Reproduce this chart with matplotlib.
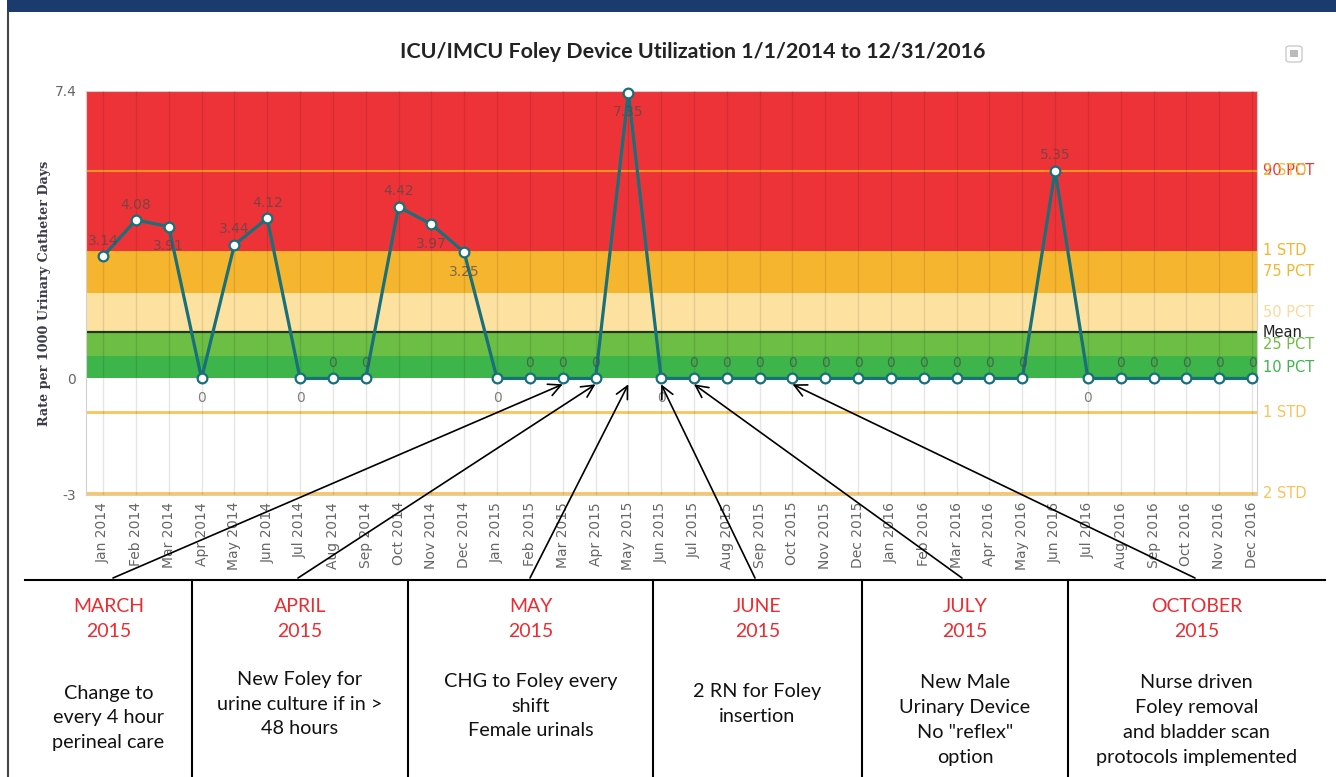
import numpy as np
import matplotlib.pyplot as plt
from matplotlib.lines import Line2D
from matplotlib.patches import Rectangle, FancyBboxPatch

# monthly rates, Jan 2014 .. Dec 2016
months = ['Jan 2014', 'Feb 2014', 'Mar 2014', 'Apr 2014', 'May 2014', 'Jun 2014',
          'Jul 2014', 'Aug 2014', 'Sep 2014', 'Oct 2014', 'Nov 2014', 'Dec 2014',
          'Jan 2015', 'Feb 2015', 'Mar 2015', 'Apr 2015', 'May 2015', 'Jun 2015',
          'Jul 2015', 'Aug 2015', 'Sep 2015', 'Oct 2015', 'Nov 2015', 'Dec 2015',
          'Jan 2016', 'Feb 2016', 'Mar 2016', 'Apr 2016', 'May 2016', 'Jun 2016',
          'Jul 2016', 'Aug 2016', 'Sep 2016', 'Oct 2016', 'Nov 2016', 'Dec 2016']
rate = [3.14, 4.08, 3.91, 0, 3.44, 4.12, 0, 0, 0, 4.42, 3.97, 3.25,
        0, 0, 0, 0, 7.35, 0, 0, 0, 0, 0, 0, 0,
        0, 0, 0, 0, 0, 5.35, 0, 0, 0, 0, 0, 0]
# data labels drawn under the point instead of above
label_below = ['Mar 2014', 'Apr 2014', 'Jul 2014', 'Nov 2014', 'Dec 2014',
               'Jan 2015', 'May 2015', 'Jun 2015', 'Jul 2016']

# control chart bands / lines
band_lo = [0, 0.57, 1.19, 2.21, 3.29]
band_hi = [0.57, 1.19, 2.21, 3.29, 7.4]
band_col = ['#3db54a', '#6cbe45', '#fde1a0', '#f6b52e', '#ee3338']
band_name = ['10 PCT', '25 PCT', '50 PCT', '75 PCT', '']
band_txt = ['#3db54a', '#6cbe45', '#fdd99a', '#f6b52e', '#ee3338']
mean_rate = 1.19
upper_line = 5.35
lower_lines = [-0.87, -2.95]
line_labels = [('90 PCT', 5.35, '#ee3338'), ('2 STD', 5.35, '#f6b52e'),
               ('1 STD', 3.29, '#f6b52e'), ('Mean', 1.19, '#222222'),
               ('1 STD', -0.87, '#f9c25a'), ('2 STD', -2.95, '#f9c25a')]

# improvement notes under the chart
note_head = ['MARCH\n2015', 'APRIL\n2015', 'MAY\n2015', 'JUNE\n2015',
             'JULY\n2015', 'OCTOBER\n2015']
note_body = ['Change to\nevery 4 hour\nperineal care',
             'New Foley for\nurine culture if in >\n48 hours',
             'CHG to Foley every\nshift\nFemale urinals',
             '2 RN for Foley\ninsertion',
             'New Male\nUrinary Device\nNo "reflex"\noption',
             'Nurse driven\nFoley removal\nand bladder scan\nprotocols implemented']
note_month = ['Mar 2015', 'Apr 2015', 'May 2015', 'Jun 2015', 'Jul 2015', 'Oct 2015']

W, H = 1336, 777
fx = lambda x: x / W
fy = lambda y: 1 - y / H

fig = plt.figure(figsize=(W / 100, H / 100), dpi=100)
ax = fig.add_axes([fx(86), fy(495), (1257 - 86) / W, (495 - 91) / H])

x = np.arange(len(months))
for lo, hi, c in zip(band_lo, band_hi, band_col):
    ax.axhspan(lo, hi, color=c, lw=0, zorder=0.5)
ax.axhline(upper_line, color='#f7931e', lw=1.5, zorder=1)
for v in lower_lines:
    ax.axhline(v, color='#fbc45a', lw=2, zorder=1)
ax.axhline(mean_rate, color='#1c3a1c', lw=1.6, zorder=1.2)

ax.plot(x, rate, color='#17707a', lw=2.3, marker='o', ms=7, mfc='white',
        mec='#17707a', mew=1.6, zorder=5, clip_on=False)

for i, (m, v) in enumerate(zip(months, rate)):
    lab = '%g' % v if v else '0'
    if m in label_below:
        ax.annotate(lab, (i, v), xytext=(0, -9), textcoords='offset points',
                    ha='center', va='top', fontsize=10, color='#4a4a4a',
                    alpha=0.7, zorder=6)
    else:
        ax.annotate(lab, (i, v), xytext=(0, 6), textcoords='offset points',
                    ha='center', va='bottom', fontsize=10, color='#4a4a4a',
                    alpha=0.7, zorder=6)

ax.set_xlim(-0.52, 35.15)
ax.set_ylim(-3, 7.4)
ax.set_xticks(x)
ax.set_xticklabels(months, rotation=90, fontsize=10, color='#666666')
ax.set_yticks([-3, 0, 7.4])
ax.set_yticklabels(['-3', '0', '7.4'], fontsize=10, color='#666666')
ax.tick_params(length=0)
ax.tick_params(axis='x', pad=5)
ax.tick_params(axis='y', pad=7)
ax.set_axisbelow(False)
ax.grid(axis='x', color='k', alpha=0.1, lw=1)
for s in ax.spines.values():
    s.set_color('#d0d0d0')
    s.set_linewidth(0.8)

# right-hand band / line labels
tr = ax.get_yaxis_transform()
for name, lo, hi, c in zip(band_name, band_lo, band_hi, band_txt):
    if name:
        ax.text(1.005, (lo + hi) / 2, name, transform=tr, fontsize=10.5,
                color=c, va='center', ha='left', clip_on=False)
for name, v, c in line_labels:
    ax.text(1.005, v, name, transform=tr, fontsize=10.5, color=c,
            va='center', ha='left', clip_on=False)

fig.text(fx(693), fy(52), 'ICU/IMCU Foley Device Utilization 1/1/2014 to 12/31/2016',
         ha='center', va='center', fontsize=15.4, fontweight='bold',
         family='Lato', color='#222222')
fig.text(fx(45), fy(293), 'Rate per 1000 Urinary Catheter Days', rotation=90,
         ha='center', va='center', fontsize=9.2, fontweight='bold',
         family='DejaVu Serif', color='#3a3a4a')

# page frame: banner, left border, export icon
fig.add_artist(Rectangle((fx(7), fy(12)), 1, 12 / H, transform=fig.transFigure,
                         color='#1b3b6f', lw=0))
fig.add_artist(Line2D([fx(8), fx(8)], [fy(12), 0], color='#444444', lw=1.5))
fig.add_artist(FancyBboxPatch((fx(1286), fy(62)), 16 / W, 16 / H,
                              boxstyle='round,pad=0,rounding_size=0.003',
                              transform=fig.transFigure, fc='white',
                              ec='#cccccc', lw=1))
fig.add_artist(Rectangle((fx(1290), fy(57)), 8 / W, 7 / H,
                         transform=fig.transFigure, color='#bbbbbb', lw=0))

# notes table
fig.add_artist(Line2D([fx(25), fx(1325)], [fy(580), fy(580)], color='k', lw=1.5))
col_edges = [25, 192, 408, 653, 862, 1068, 1325]
body_y = [718, 704, 706, 704, 720, 720]
tail_x = [113, 298, 530, 755, 962, 1195]
for k in range(len(note_head)):
    if k > 0:
        fig.add_artist(Line2D([fx(col_edges[k])] * 2, [fy(580), 0], color='k', lw=1.5))
    cx = (col_edges[k] + col_edges[k + 1]) / 2
    fig.text(fx(cx), fy(619), note_head[k], ha='center', va='center',
             fontsize=14, color='#ed2b30', family='Lato', linespacing=1.55)
    fig.text(fx(cx), fy(body_y[k]), note_body[k], ha='center', va='center',
             fontsize=14.3, color='#111111', family='Lato', linespacing=1.55)
    ax.annotate('', xy=(months.index(note_month[k]), -0.15),
                xytext=(fx(tail_x[k]), fy(578)), textcoords='figure fraction',
                arrowprops=dict(arrowstyle='->', color='k', lw=1.2,
                                mutation_scale=22, shrinkA=0, shrinkB=0),
                annotation_clip=False, zorder=10)

fig.savefig('out.png', dpi=100)
